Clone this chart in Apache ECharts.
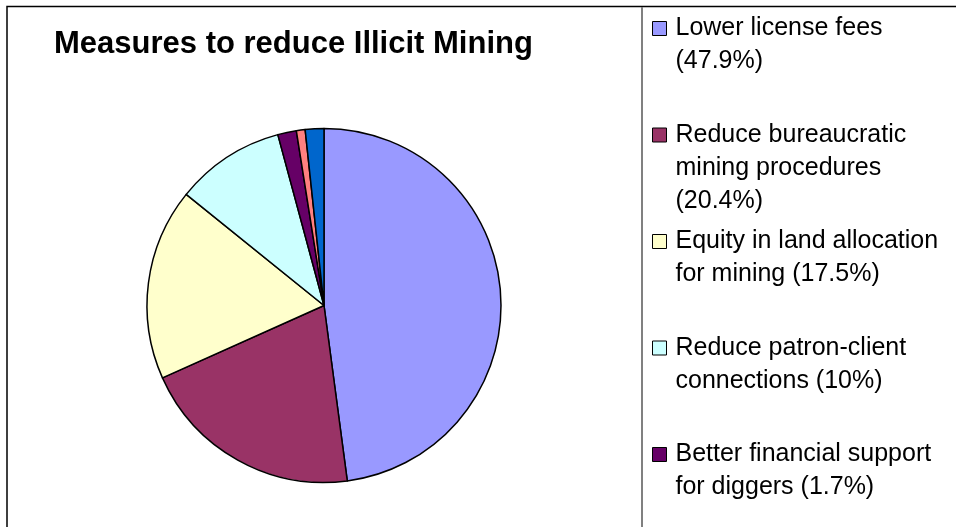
<!DOCTYPE html>
<html>
<head>
<meta charset="utf-8">
<script src="https://cdn.jsdelivr.net/npm/echarts@6/dist/echarts.min.js"></script>
<style>
html,body{margin:0;padding:0;background:#fff;}
#chart{width:956px;height:527px;}
</style>
</head>
<body>
<div id="chart"></div>
<script>
// ---- data ----
const chartTitle = 'Measures to reduce Illicit Mining';
const categories = [
  'Lower license fees',
  'Reduce bureaucratic mining procedures',
  'Equity in land allocation for mining',
  'Reduce patron-client connections',
  'Better financial support for diggers',
  'Other measure (a)',
  'Other measure (b)'
];
const values = [47.9, 20.4, 17.5, 10, 1.7, 0.8, 1.7];
const colors = ['#9999FF', '#993366', '#FFFFCC', '#CCFFFF', '#660066', '#FF8080', '#0066CC'];
const legendLines = [
  ['Lower license fees', '(47.9%)'],
  ['Reduce bureaucratic', 'mining procedures', '(20.4%)'],
  ['Equity in land allocation', 'for mining (17.5%)'],
  ['Reduce patron-client', 'connections (10%)'],
  ['Better financial support', 'for diggers (1.7%)']
];

// ---- layout ----
const FONT = "'Liberation Sans', Arial, sans-serif";
const LH = 33;           // legend line height
const ICON = 14;
const firstIconTop = 21.5;
const iconStep = 106.5;

const chart = echarts.init(document.getElementById('chart'), null, {renderer: 'canvas'});

const legends = legendLines.map(function (lines, i) {
  const n = lines.length;
  const iconTop = firstIconTop + iconStep * i;
  // pad with blank lines above so the first real line sits level with the icon
  const padded = new Array(n - 1).fill('').concat(lines);
  const blockH = (2 * n - 1) * LH;
  return {
    show: true,
    orient: 'vertical',
    left: 652,
    top: iconTop + ICON / 2 - blockH / 2,
    padding: 0,
    itemWidth: ICON,
    itemHeight: ICON,
    icon: 'rect',
    selectedMode: false,
    data: [{
      name: categories[i],
      itemStyle: {borderColor: '#000', borderWidth: 1}
    }],
    formatter: function () { return padded.join('\n'); },
    textStyle: {
      fontFamily: FONT,
      fontSize: 25,
      lineHeight: LH,
      color: '#000',
      padding: [0, 0, 0, 4]
    }
  };
});

const option = {
  backgroundColor: '#fff',
  animation: false,
  color: colors,
  title: {
    text: chartTitle,
    left: 54,
    top: 29,
    padding: 0,
    textStyle: {fontFamily: FONT, fontSize: 31, fontWeight: 'bold', color: '#000'}
  },
  legend: legends,
  graphic: [
    {
      type: 'rect', silent: true, z: -1,
      shape: {x: 7, y: 6.5, width: 1200, height: 1000},
      style: {fill: 'none', stroke: '#000', lineWidth: 1.5}
    },
    {
      type: 'line', silent: true,
      shape: {x1: 642, y1: 7, x2: 642, y2: 540},
      style: {stroke: '#808080', lineWidth: 2}
    }
  ],
  series: [{
    type: 'pie',
    center: [324, 305.5],
    radius: 177,
    startAngle: 90,
    clockwise: true,
    label: {show: false},
    labelLine: {show: false},
    emphasis: {disabled: true},
    itemStyle: {borderColor: '#000', borderWidth: 1.5},
    data: categories.map(function (c, i) {
      return {name: c, value: values[i], itemStyle: {color: colors[i]}};
    })
  }]
};
chart.setOption(option);
</script>
</body>
</html>
